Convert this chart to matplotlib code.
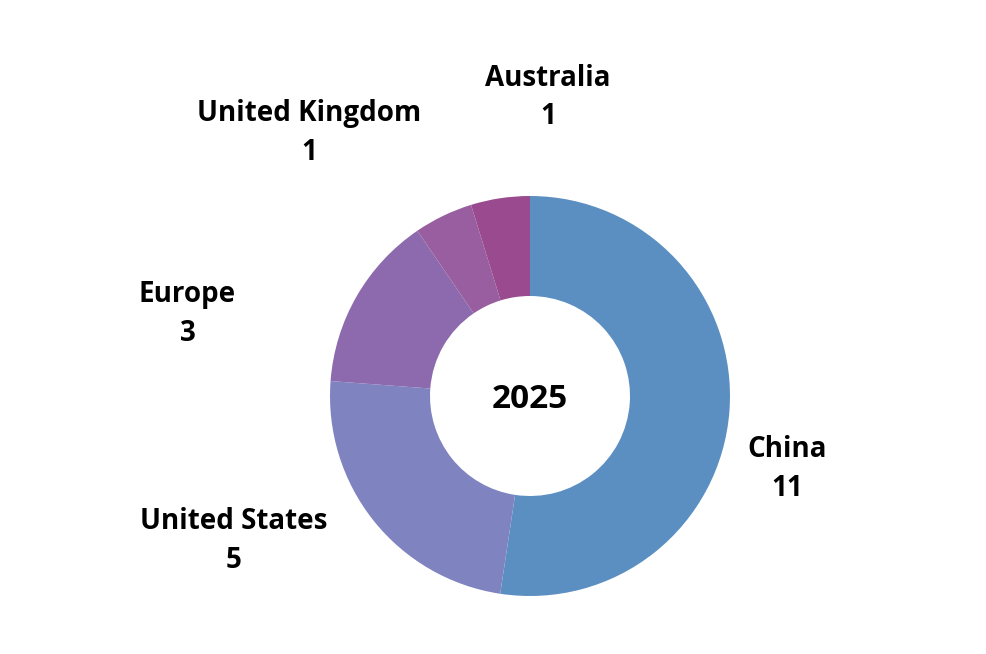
import numpy as np
import matplotlib.pyplot as plt

# ------------------------------------------------------------------ #
#  Data                                                               #
# ------------------------------------------------------------------ #
regions = ["China", "United States", "Europe", "United Kingdom", "Australia"]
counts = [11, 5, 3, 1, 1]
colors = ["#5B8FC2", "#7F84C1", "#8D6AAD", "#985E9F", "#9A4B8F"]
center_label = "2025"

# label placement: (angle offset in degrees, distance in px) per slice
label_shift = [11, 13, -16, -14, 12]
label_dist = [267, 329, 353, 346, 302]

W, H = 986, 654
CX, CY, R = 530, H - 396, 200

fig = plt.figure(figsize=(W / 100, H / 100), dpi=100)
ax = fig.add_axes([0, 0, 1, 1])

wedges, _ = ax.pie(counts, colors=colors, startangle=90, counterclock=False,
                   center=(CX, CY), radius=R,
                   wedgeprops=dict(width=R / 2, linewidth=0))

# pie() resets the limits, so set the pixel frame afterwards
ax.set_xlim(0, W)
ax.set_ylim(0, H)
ax.set_aspect("equal")
ax.axis("off")

font = dict(family=["Open Sans", "DejaVu Sans"], fontweight="bold", color="black")

for w, name, n, shift, dist in zip(wedges, regions, counts, label_shift, label_dist):
    mid = np.deg2rad((w.theta1 + w.theta2) / 2 - shift)
    x = CX + dist * np.cos(mid)
    y = CY + dist * np.sin(mid) - 3
    ax.text(x, y, f"{name}\n{n}", ha="center", va="center", fontsize=20,
            linespacing=1.45, **font)

ax.text(CX, CY - 3, center_label, ha="center", va="center", fontsize=24, **font)

fig.savefig("out.png", dpi=100, facecolor="white")
